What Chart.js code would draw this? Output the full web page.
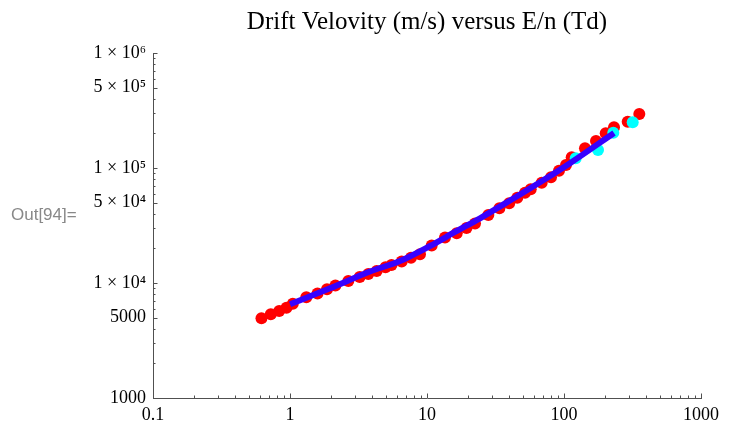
<!DOCTYPE html>
<html>
<head>
<meta charset="utf-8">
<script src="https://cdn.jsdelivr.net/npm/chart.js@4/dist/chart.umd.min.js"></script>
<style>
  html, body { margin: 0; padding: 0; background: #fff; }
  #wrap { position: relative; width: 734px; height: 428px; }
  canvas { display: block; }
</style>
</head>
<body>
<div id="wrap"><canvas id="c" width="734" height="428"></canvas></div>
<script>
// ---- Data ----
const titleText = 'Drift Velovity (m/s) versus E/n (Td)';
const outLabel = 'Out[94]=';

// Red points: E/n (Td) and drift velocity (m/s)
const redE = [0.619, 0.724, 0.834, 0.943, 1.048, 1.315, 1.588, 1.862, 2.145, 2.665,
              3.228, 3.729, 4.294, 4.979, 5.507, 6.537, 7.641, 8.889, 10.82, 13.53,
              16.48, 19.43, 22.41, 28.03, 33.77, 39.81, 45.61, 51.93, 57.15, 68.76,
              80.38, 91.93, 103.4, 113.8, 142.3, 171.2, 201.6, 231.7, 291.7, 354.5];
const redV = [4932, 5343, 5707, 6098, 6607, 7508, 8102, 8835, 9512, 10409,
              11277, 11977, 12716, 13695, 14339, 15409, 16564, 17799, 21195, 24869,
              27054, 30085, 32918, 39019, 44625, 49431, 55166, 60982, 65270, 74340,
              82990, 94740, 106200, 123900, 148400, 171700, 200300, 225900, 252700, 294900];

// Cyan points
const cyanE = [121.7, 177.1, 229.0, 317.3];
const cyanV = [121400, 143400, 202800, 249700];

// Blue fitted curve
const fitE = [1.0, 1.959, 3.837, 6.353, 10.52, 16.01, 24.37, 40.35, 66.81, 110.6, 231.7];
const fitV = [6527, 8994, 12589, 15530, 20980, 27770, 36520, 52170, 75240, 110100, 201500];

// Axis ticks / labels
const xLabelValues = [0.1, 1, 10, 100, 1000];
const xLabelTexts = ['0.1', '1', '10', '100', '1000'];
const yLabelValues = [1000, 5000, 1e4, 5e4, 1e5, 5e5, 1e6];
const yLabelTexts = ['1000', '5000', '1 × 10⁴', '5 × 10⁴', '1 × 10⁵', '5 × 10⁵', '1 × 10⁶'];
const xDecades = [0.1, 1, 10, 100];
const yDecades = [1000, 1e4, 1e5];

// ---- Helpers ----
function minorTicks(decades, last) {
  const out = [];
  decades.forEach(d => { for (let k = 1; k <= 9; k++) out.push(k * d); });
  out.push(last);
  return out;
}
function labelFor(value, vals, texts) {
  for (let i = 0; i < vals.length; i++) {
    if (Math.abs(value - vals[i]) / vals[i] < 1e-6) return texts[i];
  }
  return '';
}
const toPts = (xs, ys) => xs.map((x, i) => ({ x: x, y: ys[i] }));

const axisColor = '#505050';
const serif = '"Liberation Serif", "Times New Roman", serif';

const decor = {
  id: 'decor',
  afterDraw(chart) {
    const ctx = chart.ctx;
    const xs = chart.scales.x, ys = chart.scales.y;
    ctx.save();
    ctx.strokeStyle = axisColor;
    ctx.lineWidth = 1;
    ctx.beginPath();
    xs.ticks.forEach(t => {
      const px = Math.round(xs.getPixelForValue(t.value)) + 0.5;
      const len = t.label ? 4.5 : 2.5;
      ctx.moveTo(px, xs.top);
      ctx.lineTo(px, xs.top - len);
    });
    ys.ticks.forEach(t => {
      const py = Math.round(ys.getPixelForValue(t.value)) + 0.5;
      const len = t.label ? 4.5 : 2.5;
      ctx.moveTo(ys.right, py);
      ctx.lineTo(ys.right + len, py);
    });
    ctx.stroke();
    ctx.fillStyle = '#888888';
    ctx.font = '17px "Liberation Sans", Arial, sans-serif';
    ctx.textBaseline = 'alphabetic';
    ctx.textAlign = 'left';
    ctx.fillText(outLabel, 11, 220);
    ctx.restore();
  }
};

new Chart(document.getElementById('c'), {
  type: 'scatter',
  data: {
    datasets: [
      {
        label: 'fit',
        data: toPts(fitE, fitV),
        showLine: true,
        borderColor: 'rgb(55,0,255)',
        borderWidth: 6,
        borderCapStyle: 'butt',
        cubicInterpolationMode: 'monotone',
        pointRadius: 0,
        fill: false
      },
      {
        label: 'cyan',
        data: toPts(cyanE, cyanV),
        showLine: false,
        pointRadius: 6,
        pointBackgroundColor: '#00ffff',
        pointBorderWidth: 0,
        pointBorderColor: '#00ffff'
      },
      {
        label: 'red',
        data: toPts(redE, redV),
        showLine: false,
        pointRadius: 6,
        pointBackgroundColor: '#ff0000',
        pointBorderWidth: 0,
        pointBorderColor: '#ff0000'
      }
    ]
  },
  options: {
    responsive: false,
    animation: false,
    events: [],
    layout: { padding: { left: 0, right: 33, top: 0, bottom: 0 } },
    plugins: {
      legend: { display: false },
      tooltip: { enabled: false },
      title: {
        display: true,
        text: titleText,
        fullSize: false,
        color: '#000',
        font: { family: serif, size: 25, weight: 'normal', lineHeight: 1.2 },
        padding: { top: 7, bottom: 16 }
      }
    },
    scales: {
      x: {
        type: 'logarithmic',
        position: 'bottom',
        min: 0.1,
        max: 1000,
        afterBuildTicks: s => { s.ticks = minorTicks(xDecades, 1000).map(v => ({ value: v })); },
        afterFit: s => { s.height = 30; },
        grid: { display: false, drawTicks: false, tickLength: 0 },
        border: { display: true, color: axisColor, width: 1 },
        ticks: {
          autoSkip: false,
          maxRotation: 0,
          padding: 6,
          color: '#000',
          font: { family: serif, size: 18 },
          callback: v => labelFor(v, xLabelValues, xLabelTexts)
        }
      },
      y: {
        type: 'logarithmic',
        position: 'left',
        min: 1000,
        max: 1e6,
        afterBuildTicks: s => { s.ticks = minorTicks(yDecades, 1e6).map(v => ({ value: v })); },
        afterFit: s => { s.width = 153; },
        grid: { display: false, drawTicks: false, tickLength: 0 },
        border: { display: true, color: axisColor, width: 1 },
        ticks: {
          autoSkip: false,
          padding: 7,
          color: '#000',
          font: { family: serif, size: 18 },
          callback: v => labelFor(v, yLabelValues, yLabelTexts)
        }
      }
    }
  },
  plugins: [decor]
});
</script>
</body>
</html>
